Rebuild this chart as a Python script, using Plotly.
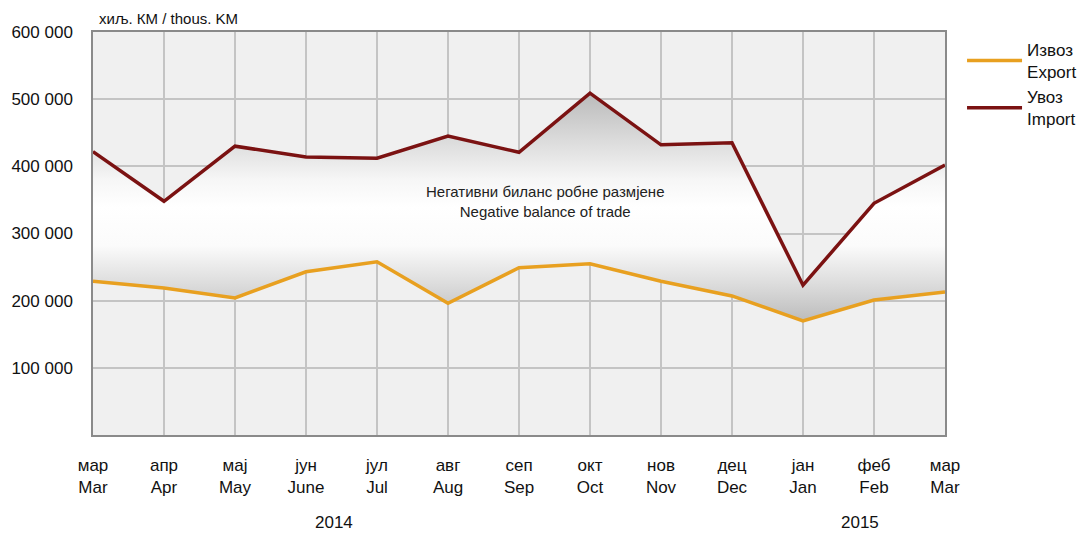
import plotly.graph_objects as go

months_sr = ["мар", "апр", "мај", "јун", "јул", "авг", "сеп", "окт", "нов", "дец", "јан", "феб", "мар"]
months_en = ["Mar", "Apr", "May", "June", "Jul", "Aug", "Sep", "Oct", "Nov", "Dec", "Jan", "Feb", "Mar"]
export_vals = [229000, 219000, 204000, 243000, 258000, 196000, 249000, 255000, 229000, 207000, 170000, 201000, 213000]
import_vals = [422000, 348000, 430000, 414000, 412000, 445000, 421000, 509000, 432000, 435000, 223000, 345000, 402000]
ytick_vals = [100000, 200000, 300000, 400000, 500000, 600000]
ytick_text = ["100 000", "200 000", "300 000", "400 000", "500 000", "600 000"]
years = ["2014", "2015"]
year_pos = [3.4, 10.8]

FONT = "Liberation Sans Narrow, Arial Narrow, Liberation Sans, Arial, sans-serif"
x = list(range(len(months_en)))
ticktext = [f"{s}<br>{e}" for s, e in zip(months_sr, months_en)]

fig = go.Figure()
fig.add_trace(go.Scatter(
    x=x, y=export_vals, mode="lines", name="Извоз<br>Export",
    line=dict(color="#E8A020", width=3.5),
))
# gradient fill between export and import (no legend entry)
fig.add_trace(go.Scatter(
    x=x, y=import_vals, mode="lines", showlegend=False, hoverinfo="skip",
    line=dict(color="rgba(0,0,0,0)", width=0),
    fill="tonexty",
    fillgradient=dict(
        type="vertical",
        start=min(export_vals), stop=max(import_vals),
        colorscale=[[0, "#bcbcbc"], [0.15, "#dadada"], [0.33, "#fbfbfb"], [0.5, "#ffffff"],
                    [0.62, "#f6f6f6"], [0.8, "#dadada"], [1, "#bababa"]],
    ),
))
fig.add_trace(go.Scatter(
    x=x, y=import_vals, mode="lines", name="Увоз<br>Import",
    line=dict(color="#7B1212", width=3.5),
))

fig.add_annotation(
    x=6.37, y=348000, xref="x", yref="y",
    text="Негативни биланс робне размјене<br>Negative balance of trade",
    showarrow=False, font=dict(family=FONT, size=15, color="#222222"),
)
fig.add_annotation(
    x=0.005, y=1.0, xref="paper", yref="paper", xanchor="left", yanchor="bottom",
    text="хиљ. КМ / thous. KM", showarrow=False, yshift=3,
    font=dict(family=FONT, size=15, color="#111111"),
)
for yr, pos in zip(years, year_pos):
    fig.add_annotation(
        x=pos, y=-0.218, xref="x", yref="paper", text=yr, showarrow=False,
        yanchor="middle",
        font=dict(family=FONT, size=17, color="#111111"),
    )

fig.update_layout(
    width=1078, height=535,
    margin=dict(l=93, r=133, t=32, b=100, autoexpand=False),
    paper_bgcolor="white", plot_bgcolor="#f0f0f0",
    font=dict(family=FONT, size=17, color="#111111"),
    showlegend=True,
    legend=dict(x=1.02, y=1.0, xanchor="left", yanchor="top",
                font=dict(family=FONT, size=17), bgcolor="rgba(0,0,0,0)",
                traceorder="normal", tracegroupgap=9, itemwidth=55),
)
fig.update_xaxes(
    range=[0, 12], tickvals=x, ticktext=ticktext, automargin=False,
    showgrid=True, gridcolor="#c4c4c4", gridwidth=1.5,
    showline=True, linecolor="#8a8a8a", linewidth=1.5, mirror=True,
    ticks="", ticklabelstandoff=14, zeroline=False,
)
fig.update_yaxes(
    range=[0, 600000], tickvals=ytick_vals, ticktext=ytick_text, automargin=False,
    showgrid=True, gridcolor="#c4c4c4", gridwidth=1.5,
    showline=True, linecolor="#8a8a8a", linewidth=1.5, mirror=True,
    ticks="", ticklabelstandoff=15, zeroline=False,
)

fig.write_html("out.html", config={"displayModeBar": False},
               post_script="document.body.style.margin='0';")
